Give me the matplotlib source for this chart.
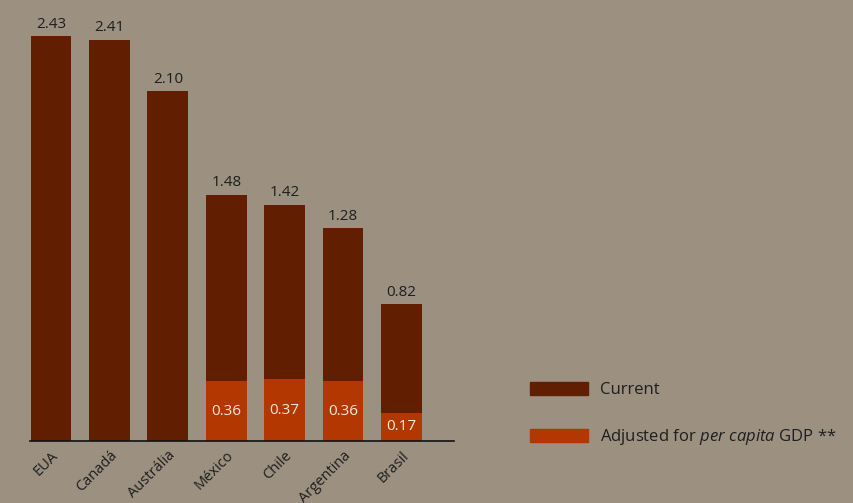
import numpy as np
import matplotlib.pyplot as plt
from matplotlib.patches import Patch

plt.rcParams['font.family'] = ['Open Sans', 'DejaVu Sans']
plt.rcParams['mathtext.fontset'] = 'custom'
plt.rcParams['mathtext.it'] = 'Open Sans:italic'
plt.rcParams['mathtext.rm'] = 'Open Sans'

# dados
paises = ["EUA", "Canadá", "Austrália", "México", "Chile", "Argentina", "Brasil"]
atual = [2.43, 2.41, 2.10, 1.48, 1.42, 1.28, 0.82]
ajustado = [None, None, None, 0.36, 0.37, 0.36, 0.17]

fundo = "#9c9080"
marrom = "#621e00"
laranja = "#b33700"
texto = "#1e1e1e"

fig = plt.figure(figsize=(8.54, 5.03), dpi=100, facecolor=fundo)
ax = fig.add_axes([30 / 854, 62 / 503, 424 / 854, 433 / 503])
ax.set_facecolor(fundo)

x = np.arange(len(paises))
barras = ax.bar(x, atual, width=0.7, color=marrom)
ax.bar_label(barras, labels=[f"{v:.2f}" for v in atual], padding=3,
             fontsize=11, color=texto)

# barras ajustadas pelo PIB per capita
xa = [i for i, v in enumerate(ajustado) if v is not None]
va = [v for v in ajustado if v is not None]
barras_aj = ax.bar(xa, va, width=0.7, color=laranja)
ax.bar_label(barras_aj, labels=[f"{v:.2f}" for v in va], label_type='center',
             fontsize=11, color="#f2e8de")

ax.set_xlim(-0.36, 6.9)
ax.set_ylim(0, 2.6)
ax.set_yticks([])
ax.set_xticks(x)
ax.set_xticklabels(paises, rotation=45, ha='right', va='top',
                   rotation_mode='anchor', fontsize=10.5, color=texto)
ax.tick_params(axis='x', length=0, pad=5)
for lado in ['top', 'right', 'left']:
    ax.spines[lado].set_visible(False)
ax.spines['bottom'].set_color('#111111')
ax.spines['bottom'].set_linewidth(1.2)

handles = [Patch(color=marrom), Patch(color=laranja)]
labels = ["Current", r"Adjusted for $\it{per\ capita}$ GDP **"]
fig.legend(handles, labels, loc='upper left', bbox_to_anchor=(515 / 854, 1 - 367 / 503),
           frameon=False, fontsize=12, handlelength=3.5, handleheight=0.8,
           labelspacing=1.75, handletextpad=0.7, labelcolor=texto)

fig.savefig("out.png", dpi=100, facecolor=fundo)
